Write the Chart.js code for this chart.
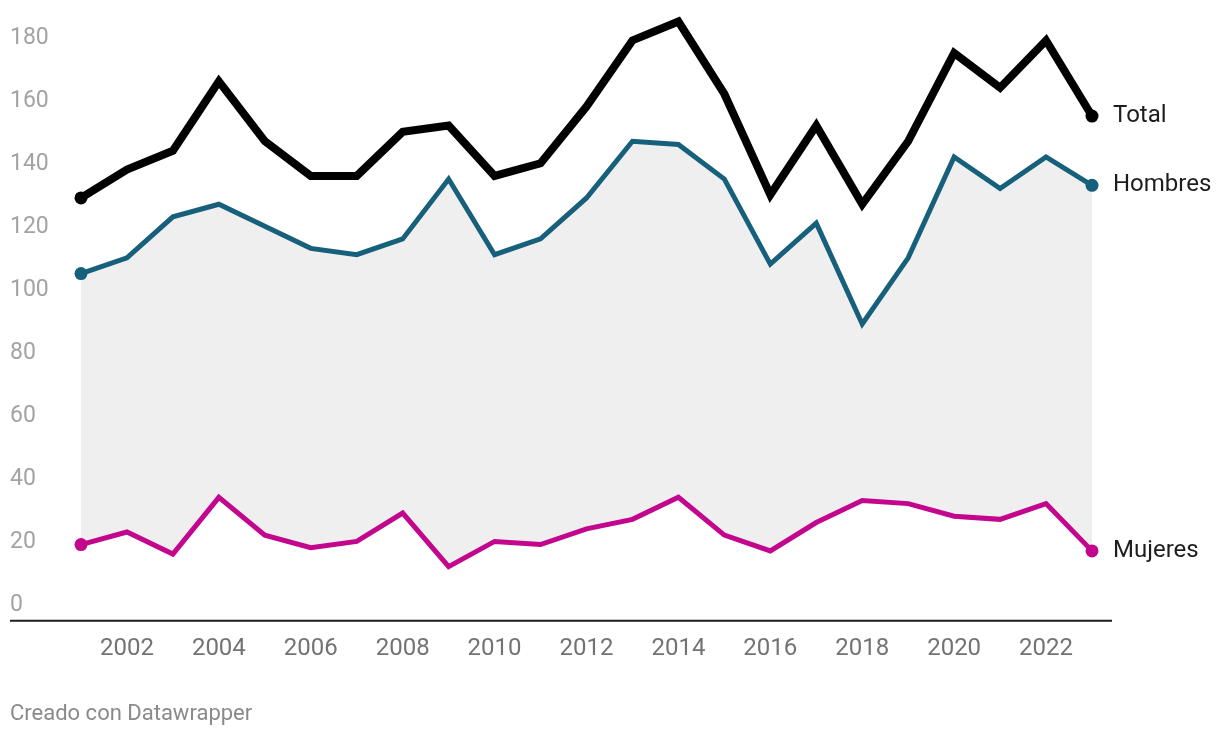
<!DOCTYPE html>
<html>
<head>
<meta charset="utf-8">
<script src="https://cdn.jsdelivr.net/npm/chart.js@4"></script>
<style>
  html, body { margin: 0; padding: 0; background: #fff; }
  #wrap { width: 1220px; height: 738px; position: relative; }
</style>
</head>
<body>
<div id="wrap"><canvas id="lineChart" width="1220" height="738"></canvas></div>
<script>
// data
const years = ['2001','2002','2003','2004','2005','2006','2007','2008','2009','2010','2011','2012',
               '2013','2014','2015','2016','2017','2018','2019','2020','2021','2022','2023'];
const total   = [134,143,149,171,152,141,141,155,157,141,145,163,184,190,167,135,157,132,152,180,169,184,160];
const hombres = [110,115,128,132,125,118,116,121,140,116,121,134,152,151,140,113,126, 94,115,147,137,147,138];
const mujeres = [ 24, 28, 21, 39, 27, 23, 25, 34, 17, 25, 24, 29, 32, 39, 27, 22, 31, 38, 37, 33, 32, 37, 22];
const yTicks = [0,20,40,60,80,100,120,140,160,180];
const seriesNames = ['Total', 'Hombres', 'Mujeres'];

const FONT = 'Roboto, "Noto Sans", sans-serif';
const last = years.length - 1;
const endDot = r => (ctx => (ctx.dataIndex === 0 || ctx.dataIndex === last) ? r : 0);

// y labels above the (hidden) gridlines, baseline, end labels, credit
const decorPlugin = {
    id: 'decor',
    afterDatasetsDraw(chart) {
        const ctx = chart.ctx;
        const y = chart.scales.y;
        const area = chart.chartArea;
        ctx.save();
        ctx.font = '23px ' + FONT;
        ctx.fillStyle = '#a3a3a3';
        ctx.textAlign = 'left';
        ctx.textBaseline = 'middle';
        yTicks.forEach(v => {
            ctx.fillText(String(v), 10, y.getPixelForValue(v) - 15);
        });

        ctx.strokeStyle = '#1d1d1d';
        ctx.lineWidth = 2;
        ctx.beginPath();
        ctx.moveTo(10, area.bottom + 0.5);
        ctx.lineTo(area.right + 20, area.bottom + 0.5);
        ctx.stroke();

        ctx.font = '24px ' + FONT;
        ctx.fillStyle = '#1d1d1d';
        chart.data.datasets.forEach((ds, i) => {
            const pt = chart.getDatasetMeta(i).data[last];
            ctx.fillText(seriesNames[i], pt.x + 21, pt.y);
        });

        ctx.font = '22px ' + FONT;
        ctx.fillStyle = '#8a8a8a';
        ctx.fillText('Creado con Datawrapper', 10, 714);
        ctx.restore();
    }
};

new Chart(document.getElementById('lineChart'), {
    type: 'line',
    data: {
        labels: years,
        datasets: [
            {
                label: 'Total', data: total,
                borderColor: '#000000', backgroundColor: '#000000',
                borderWidth: 8, pointRadius: endDot(6.5), pointBorderWidth: 0, fill: false
            },
            {
                label: 'Hombres', data: hombres,
                borderColor: '#17607b', pointBackgroundColor: '#17607b',
                backgroundColor: '#efefef',
                borderWidth: 5, pointRadius: endDot(6.5), pointBorderWidth: 0, fill: 2
            },
            {
                label: 'Mujeres', data: mujeres,
                borderColor: '#c2068e', backgroundColor: '#c2068e',
                borderWidth: 5, pointRadius: endDot(6.5), pointBorderWidth: 0, fill: false
            }
        ]
    },
    options: {
        responsive: false,
        animation: false,
        events: [],
        layout: { padding: { left: 81, right: 128, top: 21.5, bottom: 61 } },
        elements: {
            line: { tension: 0, borderCapStyle: 'round' },
            point: { borderWidth: 0, hoverRadius: 0 }
        },
        plugins: {
            legend: { display: false },
            tooltip: { enabled: false },
            filler: { drawTime: 'beforeDatasetsDraw' }
        },
        scales: {
            x: {
                offset: false,
                grid: { display: false, drawTicks: false },
                border: { display: false },
                ticks: {
                    autoSkip: false, maxRotation: 0, padding: 14,
                    color: '#737373', font: { size: 24, family: FONT },
                    callback: function (v, i) {
                        const yr = years[i];
                        return (+yr % 2 === 0) ? yr : '';
                    }
                }
            },
            y: {
                display: false,
                min: 0, max: 190
            }
        },
        clip: false
    },
    plugins: [decorPlugin]
});
</script>
</body>
</html>
